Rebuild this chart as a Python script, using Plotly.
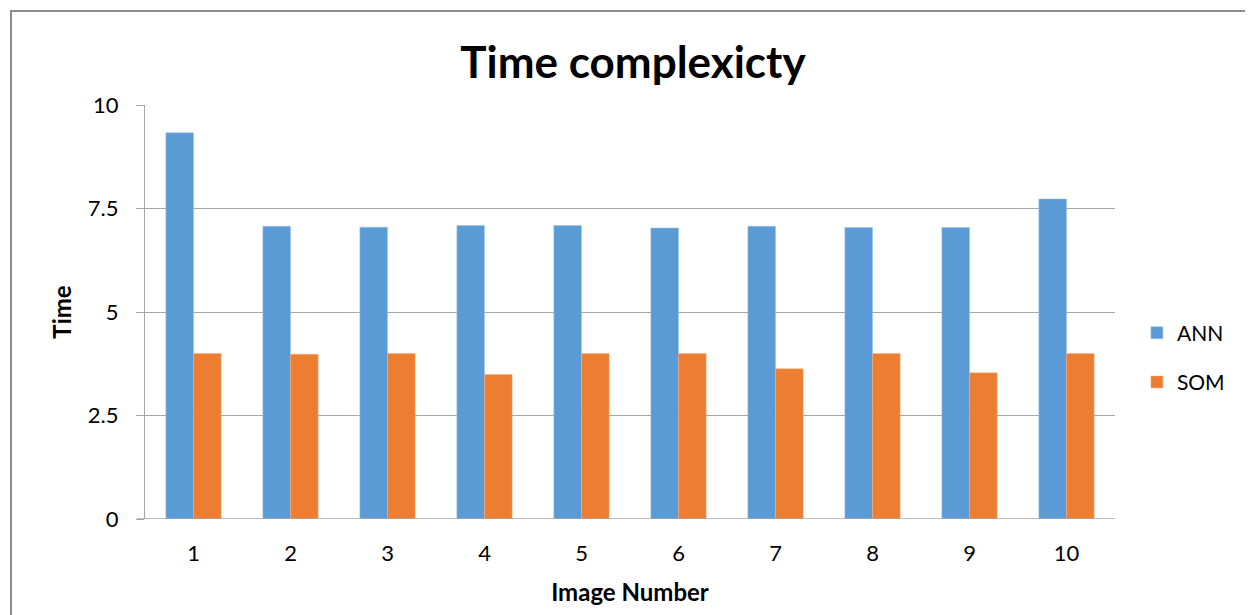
import plotly.graph_objects as go

categories = ["1", "2", "3", "4", "5", "6", "7", "8", "9", "10"]
ann = [9.33, 7.07, 7.05, 7.09, 7.09, 7.03, 7.07, 7.04, 7.04, 7.73]
som = [4.00, 3.98, 4.00, 3.49, 4.00, 4.00, 3.63, 4.00, 3.53, 4.00]
y_ticks = [0, 2.5, 5, 7.5, 10]
y_tick_labels = ["0", "2.5", "5", "7.5", "10"]

FONT = "Lato, Open Sans, sans-serif"

fig = go.Figure()
fig.add_trace(go.Bar(x=categories, y=ann, name="ANN", legendgroup="a",
                     marker=dict(color="#5B9BD5", line=dict(color="#9dc3e6", width=0.5))))
fig.add_trace(go.Bar(x=categories, y=som, name="SOM", legendgroup="b",
                     marker=dict(color="#ED7D31", line=dict(color="#f4b183", width=0.5))))

fig.update_layout(
    width=1245, height=608,
    margin=dict(l=137, r=138, t=97, b=97),
    paper_bgcolor="white", plot_bgcolor="white",
    barmode="group", bargap=0.43, bargroupgap=0,
    font=dict(family=FONT, color="black", size=22),
    title=dict(text="<b>Time complexicty</b>", x=0.502, xanchor="center",
               y=0.9095, yanchor="middle", font=dict(size=44, family=FONT, color="black")),
    legend=dict(x=1.0226, y=0.39, xanchor="left", yanchor="middle",
                font=dict(size=21, family=FONT), traceorder="grouped",
                tracegroupgap=19, itemwidth=30),
    xaxis=dict(title=dict(text="<b>Image Number</b>", font=dict(size=24), standoff=19),
               showgrid=False, showline=False, ticks="", tickfont=dict(size=22),
               ticklabelstandoff=19),
    yaxis=dict(title=dict(text="<b>Time</b>", font=dict(size=24), standoff=9),
               range=[0, 10], tickvals=y_ticks, ticktext=y_tick_labels,
               showgrid=True, gridcolor="#a6a6a6", gridwidth=1.3,
               showline=True, linecolor="#a6a6a6", linewidth=1.3,
               ticks="outside", ticklen=8, tickcolor="#a6a6a6",
               tickfont=dict(size=22), ticklabelstandoff=13, zeroline=False),
    shapes=[dict(type="rect", xref="paper", yref="paper",
                 x0=(3 - 137) / 970, x1=1.3,
                 y0=-0.4, y1=1 + (97 - 3) / 414,
                 line=dict(color="#8c8c8c", width=2), layer="below")],
)
fig.add_shape(type="line", xref="paper", yref="y", x0=-8 / 970, x1=1, y0=0, y1=0,
              line=dict(color="#a6a6a6", width=1.3))

fig.write_html("out.html")
